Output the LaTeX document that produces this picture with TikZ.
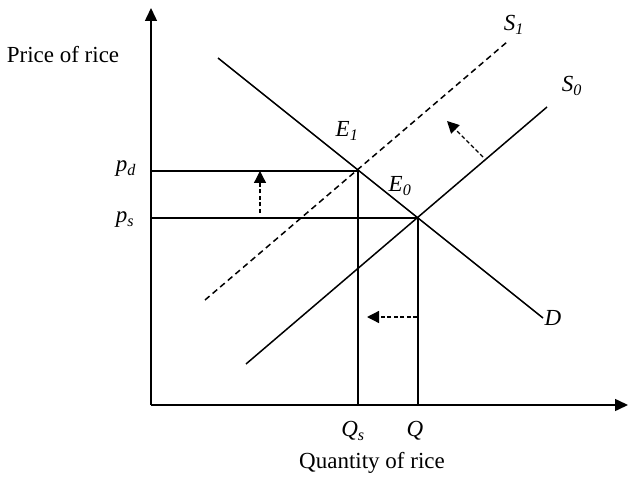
\documentclass[tikz,border=0pt]{standalone}
\usepackage{fontspec}
\setmainfont{Liberation Serif}
\usetikzlibrary{arrows.meta}
\tikzset{
  axis/.style={line width=1.5pt, -{Triangle[length=13pt,width=12pt]}},
  curve/.style={line width=1.5pt},
  shifted/.style={line width=1.5pt, dash pattern=on 6pt off 4pt},
  guide/.style={line width=1.3pt},
  move/.style={line width=1.3pt, dash pattern=on 4pt off 2.5pt, -{Triangle[length=12pt,width=12pt]}},
  lab/.style={inner sep=0pt, font=\fontsize{23}{27}\selectfont},
  every picture/.style={x=1pt, y=-1pt}
}
\newcommand{\sublab}[2]{\textit{#1}\textsubscript{\textit{#2}}}

\begin{document}
\begin{tikzpicture}
  \useasboundingbox (0,0) rectangle (628,478);
  % axes
  \coordinate (O) at (151,405);
  \coordinate (ytop) at (151,8);
  \coordinate (xend) at (628,405);
  \draw[axis] (O) -- (ytop);
  \draw[axis] (O) -- (xend);
  \node[lab] (pricelab) at (63,55) {Price of rice};
  \node[lab] (quantlab) at (372,463) {Quantity of rice};

  % equilibria
  \coordinate (E1) at (358,171);
  \coordinate (E0) at (418,218);
  \coordinate (pd) at (151,171);
  \coordinate (ps) at (151,218);
  \coordinate (Qs) at (358,405);
  \coordinate (Q) at (418,405);

  % demand and supply
  \coordinate (Da) at (218,58);
  \coordinate (Db) at (543,318);
  \coordinate (S0a) at (246,364);
  \coordinate (S0b) at (547,107);
  \coordinate (S1a) at (205,300);
  \coordinate (S1b) at (507,42);
  \draw[curve] (Da) -- (Db);
  \draw[curve] (S0a) -- (S0b);
  \draw[shifted] (S1a) -- (S1b);

  % price and quantity guides
  \draw[guide] (pd) -- (E1) -- (Qs);
  \draw[guide] (ps) -- (E0) -- (Q);

  % shifts
  \coordinate (upa) at (260,213);
  \coordinate (upb) at (260,171);
  \coordinate (sha) at (483,157);
  \coordinate (shb) at (447,121);
  \coordinate (lfa) at (417,317);
  \coordinate (lfb) at (367,317);
  \draw[move] (upa) -- (upb);
  \draw[move] (sha) -- (shb);
  \draw[move] (lfa) -- (lfb);

  % labels
  \node[lab] (pdlab) at (126,169) {\sublab{p}{d}};
  \node[lab] (pslab) at (125,220) {\sublab{p}{s}};
  \node[lab] (Qslab) at (353,431) {\sublab{Q}{s}};
  \node[lab] (Qlab) at (415,431) {\textit{Q}};
  \node[lab] (Dlab) at (553,318) {\textit{D}};
  \node[lab] (E1lab) at (347,131) {\sublab{E}{1}};
  \node[lab] (E0lab) at (400,186) {\sublab{E}{0}};
  \node[lab] (S1lab) at (514,25) {\sublab{S}{1}};
  \node[lab] (S0lab) at (572,86) {\sublab{S}{0}};
\end{tikzpicture}
\end{document}
